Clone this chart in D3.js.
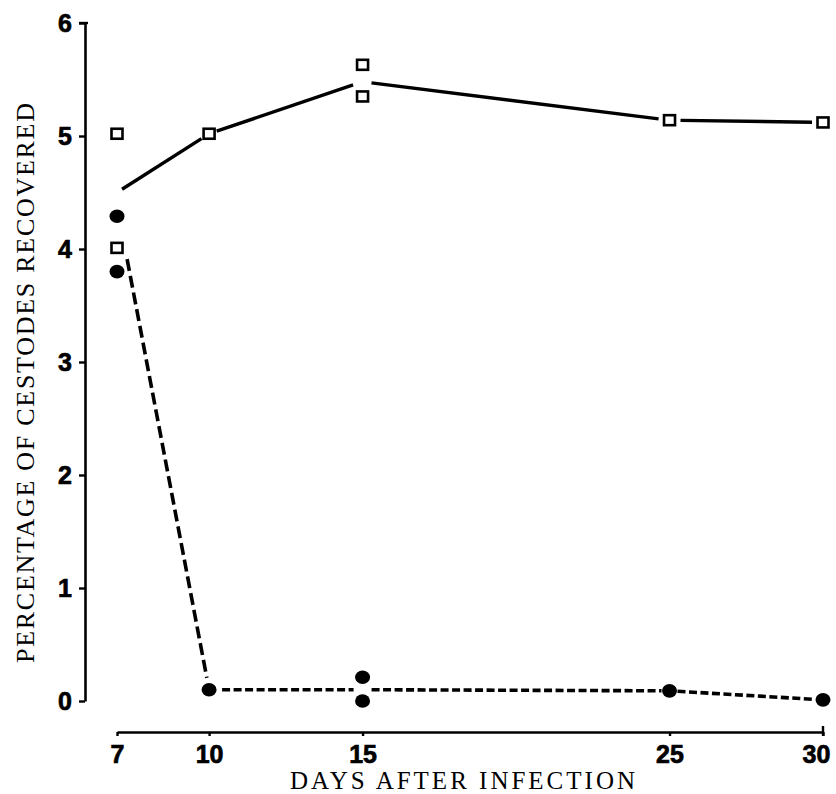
<!DOCTYPE html>
<html><head><meta charset="utf-8">
<script src="https://cdn.jsdelivr.net/npm/d3@7"></script>
<style>html,body{margin:0;padding:0;background:#fff;}svg{display:block;}</style>
</head><body>
<script>
// ---- data ----
const xTicks = [7, 10, 15, 25, 30];
const yTicks = [0, 1, 2, 3, 4, 5, 6];
const squareDays   = [7, 7, 10, 15, 15, 25, 30];
const squareValues = [5.02, 4.01, 5.02, 5.63, 5.35, 5.14, 5.12];
const circleDays   = [7, 7, 10, 15, 15, 25, 30];
const circleValues = [4.29, 3.80, 0.10, 0.21, 0.00, 0.09, 0.01];
const lineDays = [7, 10, 15, 25, 30];
const solidLineValues  = [4.5, 5.02, 5.48, 5.14, 5.12];
const dashedLineValues = [4.38, 0.10, 0.10, 0.09, 0.01];
const xTitle = "DAYS AFTER INFECTION";
const yTitle = "PERCENTAGE OF CESTODES RECOVERED";

const W = 836, H = 794;
const svg = d3.select("body").append("svg").attr("width", W).attr("height", H);

const x = d3.scaleLinear().domain([7, 30]).range([117, 823]);
const y = d3.scaleLinear().domain([0, 6]).range([701, 23]);
const axisX = 85, xAxisY = 732;
const tickFont = "'Liberation Sans', Arial, sans-serif";

// y axis
const yAx = svg.append("g").attr("transform", `translate(${axisX},0)`)
  .call(d3.axisLeft(y).tickValues(yTicks).tickSize(6).tickSizeOuter(0).tickPadding(7).tickFormat(d3.format("d")));
yAx.select(".domain").attr("stroke", "#000").attr("stroke-width", 2.6);
yAx.selectAll(".tick line").attr("stroke", "#000").attr("stroke-width", 2.4);
yAx.selectAll(".tick text").attr("fill", "#000").attr("stroke", "#000").attr("stroke-width", 0.7)
  .style("font-family", tickFont).style("font-weight", "bold").style("font-size", "25px");
yAx.append("line").attr("x1", -6).attr("x2", 3).attr("y1", y(6)).attr("y2", y(6)).attr("stroke", "#000").attr("stroke-width", 2.4);

// x axis
const xAx = svg.append("g").attr("transform", `translate(0,${xAxisY})`)
  .call(d3.axisBottom(x).tickValues(xTicks).tickSize(4).tickSizeOuter(0).tickPadding(9).tickFormat(d3.format("d")));
xAx.select(".domain").attr("stroke", "#000").attr("stroke-width", 2.6);
xAx.selectAll(".tick line").attr("stroke", "#000").attr("stroke-width", 2.4);
xAx.selectAll(".tick text").attr("fill", "#000").attr("stroke", "#000").attr("stroke-width", 0.7)
  .style("font-family", tickFont).style("font-weight", "bold").style("font-size", "25px")
  .attr("dx", d => d === 30 ? -7 : 0);
xAx.append("line").attr("x1", x(30)).attr("x2", x(30)).attr("y1", -6).attr("y2", 4).attr("stroke", "#000").attr("stroke-width", 2.4);

// titles
const serif = "'Liberation Serif', 'Times New Roman', serif";
svg.append("text").text(xTitle)
  .attr("x", 290).attr("y", 789)
  .attr("textLength", 345).attr("lengthAdjust", "spacing")
  .style("font-family", serif).style("font-size", "25px").attr("fill", "#000");
svg.append("text").text(yTitle)
  .attr("transform", "translate(34,663) rotate(-90)")
  .attr("textLength", 560).attr("lengthAdjust", "spacing")
  .style("font-family", serif).style("font-size", "26px").attr("fill", "#000");

// connecting lines with gaps at points
function gapSegments(vals, gaps) {
  const pts = lineDays.map((d, i) => [x(d), y(vals[i])]);
  const segs = [];
  for (let i = 0; i < pts.length - 1; i++) {
    const [x0, y0] = pts[i], [x1, y1] = pts[i + 1];
    const L = Math.hypot(x1 - x0, y1 - y0), ux = (x1 - x0) / L, uy = (y1 - y0) / L;
    const g0 = gaps[i][1], g1 = gaps[i + 1][0];
    segs.push([[x0 + ux * g0, y0 + uy * g0], [x1 - ux * g1, y1 - uy * g1]]);
  }
  return segs;
}
const line = d3.line();
const solidSegs = gapSegments(solidLineValues, [[0, 6], [9, 8], [10, 9], [11, 11], [11, 0]]);
svg.append("g").selectAll("path").data(solidSegs).join("path")
  .attr("d", line).attr("fill", "none").attr("stroke", "#000").attr("stroke-width", 3.4);

const dashedSegs = gapSegments(dashedLineValues, [[0, 54], [12, 13], [9, 9], [8, 8], [9, 0]]);
svg.append("g").selectAll("path").data(dashedSegs).join("path")
  .attr("d", line).attr("fill", "none").attr("stroke", "#000").attr("stroke-width", 3.6)
  .attr("stroke-dasharray", (d, i) => i === 0 ? "12,5" : "8,3.5");

// markers
svg.append("g").selectAll("rect").data(squareDays.map((d, i) => [d, squareValues[i]])).join("rect")
  .attr("x", d => x(d[0]) - 5.5).attr("y", d => y(d[1]) - 5)
  .attr("width", 11).attr("height", 10)
  .attr("fill", "#fff").attr("stroke", "#000").attr("stroke-width", 2.6);

svg.append("g").selectAll("ellipse").data(circleDays.map((d, i) => [d, circleValues[i]])).join("ellipse")
  .attr("cx", d => x(d[0])).attr("cy", d => y(d[1]))
  .attr("rx", 7.5).attr("ry", 6.8).attr("fill", "#000");
</script>
</body></html>
